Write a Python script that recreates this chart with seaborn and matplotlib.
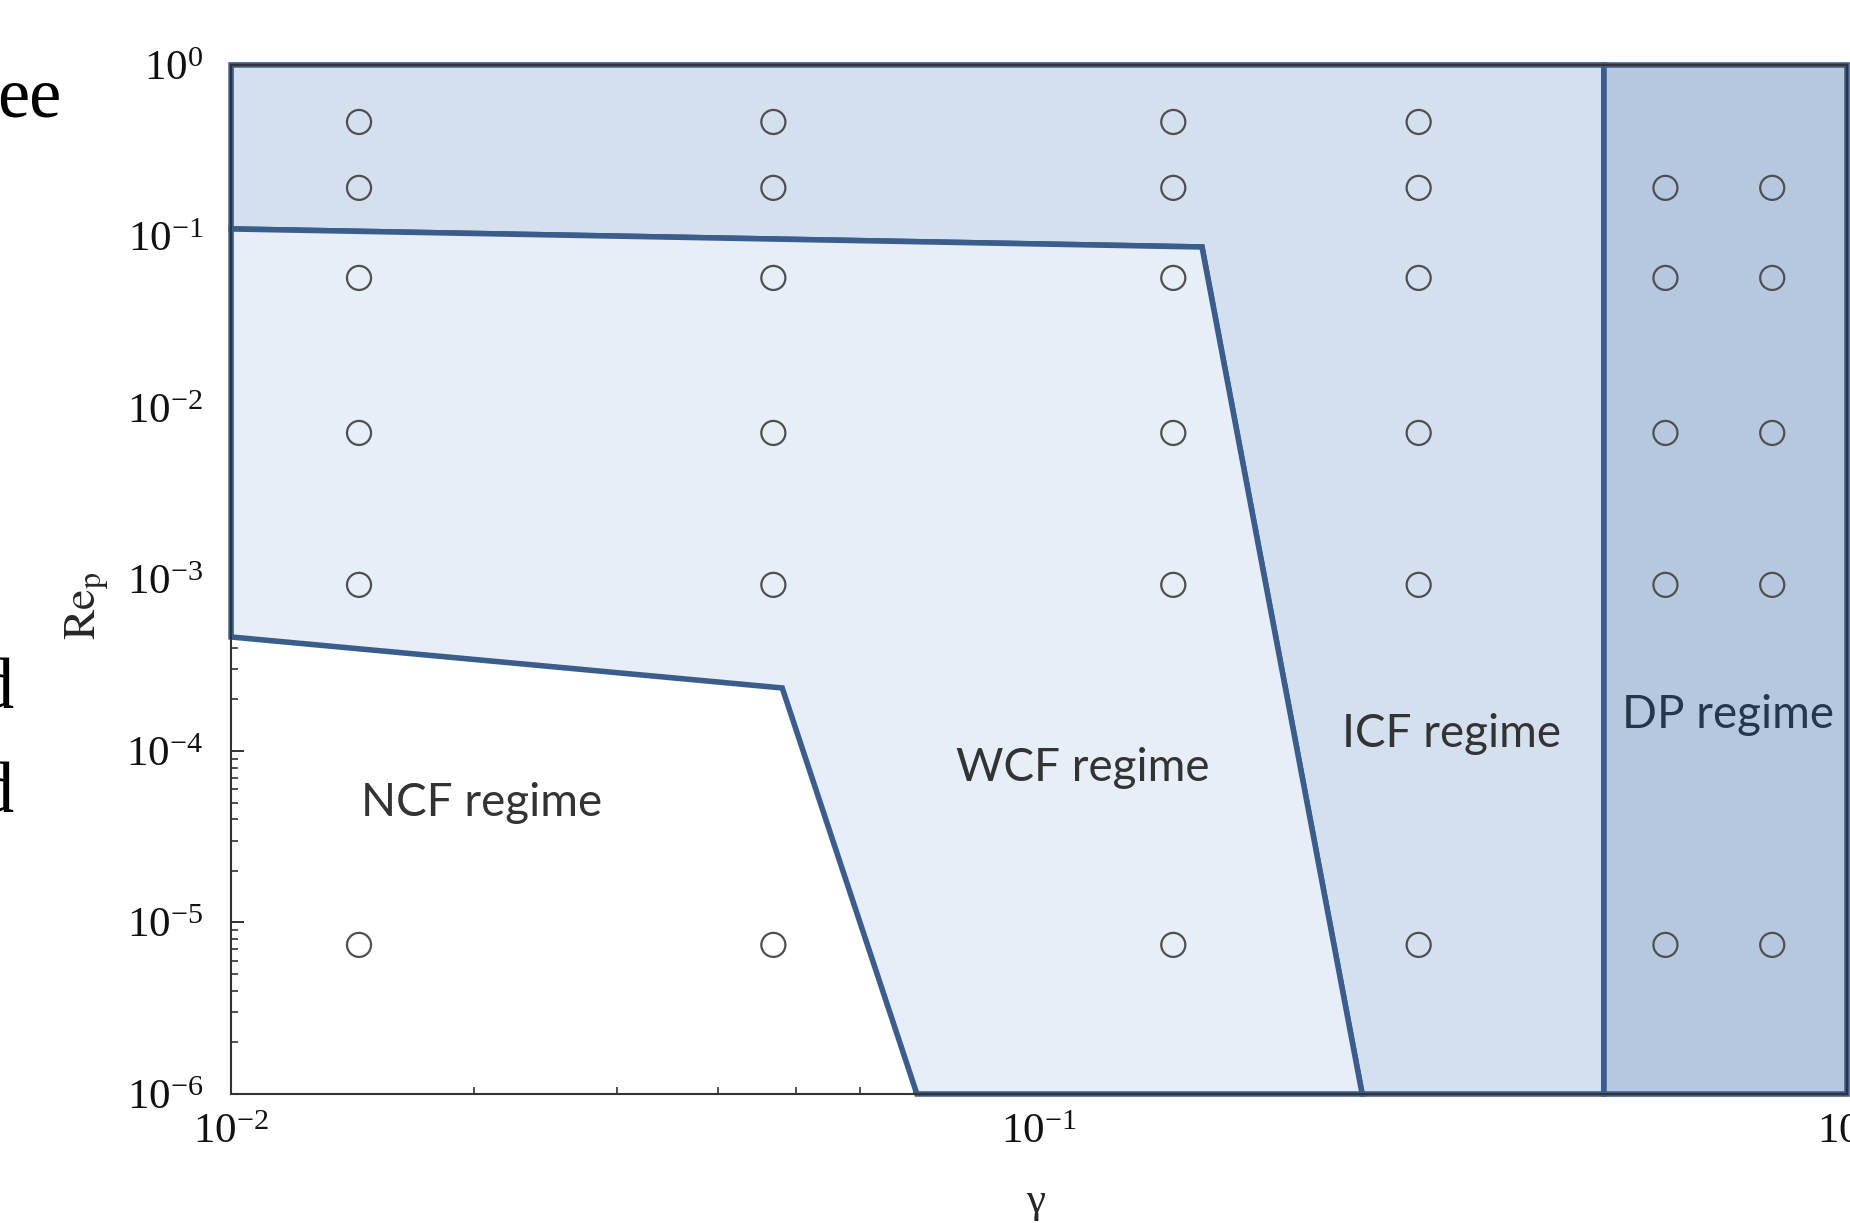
import itertools
import numpy as np
import pandas as pd
import matplotlib
matplotlib.use("Agg")
import matplotlib.pyplot as plt
import seaborn as sns

sns.set_style("ticks")
plt.rcParams['font.family'] = ['Liberation Serif', 'DejaVu Serif']
plt.rcParams['mathtext.fontset'] = 'stix'

# simulation runs (gamma x Re_p grid)
gamma_cols = [0.0144, 0.0469, 0.1466, 0.295, 0.596, 0.808]
rep_rows = [0.465, 0.192, 0.0573, 0.00715, 0.00093, 7.4e-6]
dp_gamma = 0.5  # DP columns were not run at the top Re_p

# regime boundaries
ncf_wcf_gamma = [0.01, 0.0481, 0.0706]
ncf_wcf_rep = [4.62e-4, 2.33e-4, 1e-6]
wcf_icf_gamma = [0.01, 0.1591, 0.2511]
wcf_icf_rep = [0.1106, 0.0868, 1e-6]

regime_names = ["NCF regime", "WCF regime", "ICF regime", "DP regime"]
label_gamma = [0.0204, 0.1134, 0.3236, 0.7125]
label_rep = [4.97e-5, 7.96e-5, 1.26e-4, 1.62e-4]

xlim = (0.01, 1.0)
ylim = (1e-6, 1.0)

line_col = "#3b5d8c"
icf_col = "#d5e0ee"
wcf_col = "#e7eef7"
dp_col = "#b5c8e0"

pts = [(g, r) for g, r in itertools.product(gamma_cols, rep_rows)
       if not (g > dp_gamma and r == rep_rows[0])]
df = pd.DataFrame(pts, columns=["gamma", "Re_p"])

fig = plt.figure(figsize=(18.5, 12.23), dpi=100)
ax = fig.add_axes([0.1249, 0.1055, 0.8735, 0.8414])
ax.set_xscale("log")
ax.set_yscale("log")
ax.set_xlim(*xlim)
ax.set_ylim(*ylim)

# regions
lw = 4.0
icf_x = [xlim[0], dp_gamma, dp_gamma] + wcf_icf_gamma[::-1]
icf_y = [ylim[1], ylim[1], ylim[0]] + wcf_icf_rep[::-1]
ax.fill(icf_x, icf_y, facecolor=icf_col, edgecolor=line_col, lw=lw, clip_on=False, zorder=1)

wcf_x = wcf_icf_gamma + ncf_wcf_gamma[::-1]
wcf_y = wcf_icf_rep + ncf_wcf_rep[::-1]
ax.fill(wcf_x, wcf_y, facecolor=wcf_col, edgecolor=line_col, lw=lw, clip_on=False, zorder=1)

dp_x = [dp_gamma, xlim[1], xlim[1], dp_gamma]
dp_y = [ylim[1], ylim[1], ylim[0], ylim[0]]
ax.fill(dp_x, dp_y, facecolor=dp_col, edgecolor=line_col, lw=lw, clip_on=False, zorder=1)

sns.scatterplot(data=df, x="gamma", y="Re_p", ax=ax, marker="o", s=300,
                facecolor="none", edgecolor="#4f4f4f", linewidth=1.6, zorder=3)

for name, gx, ry in zip(regime_names, label_gamma, label_rep):
    col = "#26364d" if name.startswith("DP") else "#333333"
    ax.text(gx, ry, name, ha="center", va="center", fontsize=33,
            family=["Lato", "DejaVu Sans"], color=col, zorder=4)

for s in ax.spines.values():
    s.set_linewidth(1.5)
    s.set_color("#333333")
ax.tick_params(which="both", direction="in", top=True, right=True, colors="#333333")
ax.tick_params(which="major", length=9, width=1.4, labelsize=31, labelcolor="#111111")
ax.tick_params(which="minor", length=5, width=1.2)
ax.tick_params(axis="y", which="major", pad=20)
ax.tick_params(axis="x", which="major", pad=14)
ax.set_xticks([0.01, 0.1, 1.0])

ax.set_xlabel("γ", fontsize=31)
ax.set_ylabel(r"$\mathrm{Re}_\mathrm{p}$", fontsize=33)
ax.xaxis.set_label_coords(0.498, -0.086)
ax.yaxis.set_label_coords(-0.075, 0.475)

# fragments of the surrounding page text
fig.text(61 / 1850, 0.905, "ee", ha="right", fontsize=52, color="black")
fig.text(14 / 1850, 0.421, "d", ha="right", fontsize=52, color="black")
fig.text(14 / 1850, 0.336, "d", ha="right", fontsize=52, color="black")

fig.savefig("out.png", dpi=100)
